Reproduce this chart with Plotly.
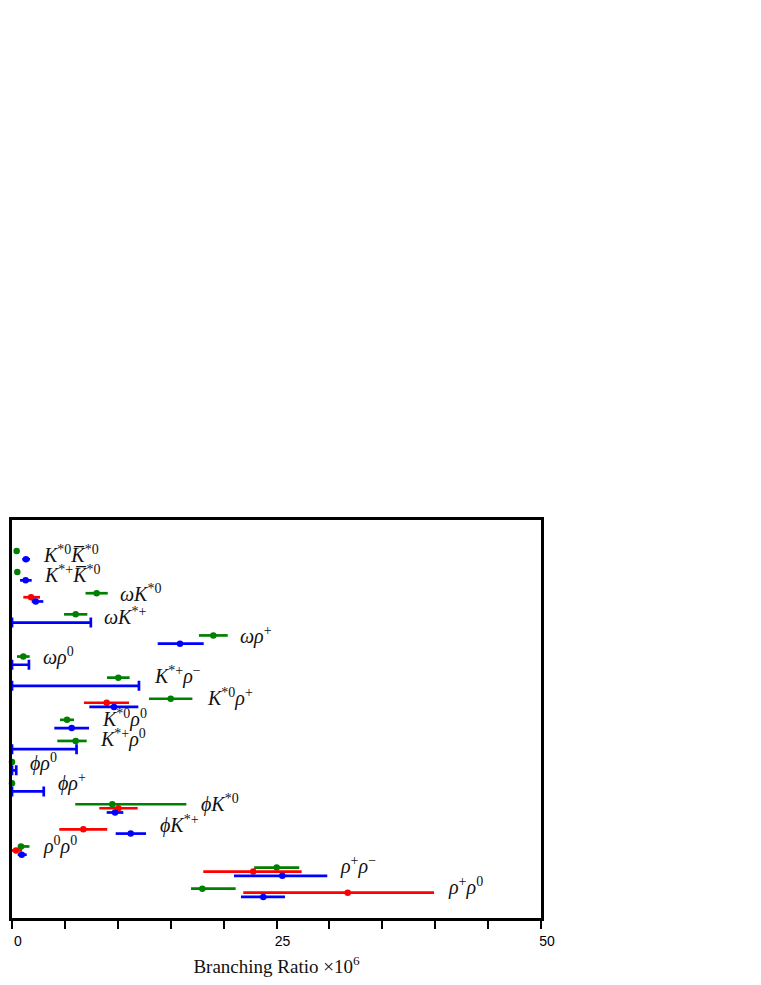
import plotly.graph_objects as go

# Row index (top = 0) for each decay channel
labels = [
    "<i>K</i><sup>*0</sup><i>K\u0305</i><sup>*0</sup>",
    "<i>K</i><sup>*+</sup><i>K\u0305</i><sup>*0</sup>",
    "<i>\u03c9K</i><sup>*0</sup>",
    "<i>\u03c9K</i><sup>*+</sup>",
    "<i>\u03c9\u03c1</i><sup>+</sup>",
    "<i>\u03c9\u03c1</i><sup>0</sup>",
    "<i>K</i><sup>*+</sup><i>\u03c1</i><sup>\u2212</sup>",
    "<i>K</i><sup>*0</sup><i>\u03c1</i><sup>+</sup>",
    "<i>K</i><sup>*0</sup><i>\u03c1</i><sup>0</sup>",
    "<i>K</i><sup>*+</sup><i>\u03c1</i><sup>0</sup>",
    "<i>\u03d5\u03c1</i><sup>0</sup>",
    "<i>\u03d5\u03c1</i><sup>+</sup>",
    "<i>\u03d5K</i><sup>*0</sup>",
    "<i>\u03d5K</i><sup>*+</sup>",
    "<i>\u03c1</i><sup>0</sup><i>\u03c1</i><sup>0</sup>",
    "<i>\u03c1</i><sup>+</sup><i>\u03c1</i><sup>\u2212</sup>",
    "<i>\u03c1</i><sup>+</sup><i>\u03c1</i><sup>0</sup>",
]
label_x = [2.74, 2.8, 10.0, 8.5, 21.4, 2.7, 13.2, 18.2, 8.3, 8.1, 1.5, 4.2, 17.7, 13.8, 2.75, 30.8, 41.0]
label_row = [0.12, 1.08, 1.97, 3.07, 4.0, 5.0, 5.9, 6.95, 7.95, 8.9, 10.0, 10.95, 11.95, 12.95, 13.95, 14.9, 15.9]

# Green series
green_row = [0, 1, 2, 3, 4, 5, 6, 7, 8, 9, 10, 11, 12, 14, 15, 16]
green_val = [0.44, 0.5, 8.0, 6.02, 19.03, 1.07, 10.05, 15.0, 5.2, 6.02, 0.0, 0.0, 9.48, 0.85, 25.02, 17.99]
green_em = [0, 0, 1.05, 1.1, 1.36, 0.6, 1.07, 2.05, 0.66, 1.74, 0, 0, 3.5, 0.3, 2.13, 1.07]
green_ep = [0, 0, 1.05, 1.1, 1.36, 0.6, 1.07, 2.05, 0.66, 1.04, 0, 0, 7.0, 0.8, 2.13, 3.15]

# Red series
red_row = [2, 7, 12, 13, 14, 15, 16]
red_val = [1.8, 8.95, 10.05, 6.74, 0.38, 22.8, 31.73]
red_em = [0.73, 2.15, 1.8, 2.27, 0.38, 4.72, 9.87]
red_ep = [0.85, 2.11, 1.83, 2.26, 0.57, 4.58, 8.16]

# Blue series (measurements)
blue_row = [0, 1, 2, 4, 7, 8, 12, 13, 14, 15, 16]
blue_val = [1.32, 1.29, 2.24, 15.88, 9.64, 5.64, 9.74, 11.22, 0.92, 25.55, 23.75]
blue_em = [0.35, 0.53, 0.38, 2.11, 2.33, 1.64, 0.79, 1.42, 0.38, 4.57, 2.11]
blue_ep = [0.38, 0.57, 0.72, 2.24, 2.3, 1.64, 0.78, 1.45, 0.47, 4.25, 2.05]

# Blue upper limits
limit_row = [3, 5, 6, 9, 10, 11]
limit_val = [7.45, 1.6, 12.0, 6.1, 0.4, 3.0]

GREEN, RED, BLUE = "#008000", "#ff0000", "#0000ff"
OFF_G, OFF_R, OFF_B = 0.0, 0.19, 0.39

fig = go.Figure()

def series(rows, vals, em, ep, color, off):
    fig.add_trace(go.Scatter(
        x=vals, y=[r + off for r in rows], mode="markers",
        marker=dict(color=color, size=6.5),
        error_x=dict(type="data", symmetric=False, array=ep, arrayminus=em,
                     color=color, thickness=2.7, width=0),
        cliponaxis=False, showlegend=False, hoverinfo="x",
    ))

series(green_row, green_val, green_em, green_ep, GREEN, OFF_G)
series(red_row, red_val, red_em, red_ep, RED, OFF_R)
series(blue_row, blue_val, blue_em, blue_ep, BLUE, OFF_B)

fig.add_trace(go.Scatter(
    x=[0] * len(limit_val), y=[r + OFF_B for r in limit_row], mode="markers",
    marker=dict(color=BLUE, size=1, opacity=0),
    error_x=dict(type="data", symmetric=False, array=limit_val,
                 arrayminus=[0] * len(limit_val),
                 color=BLUE, thickness=2.7, width=5),
    cliponaxis=False, showlegend=False, hoverinfo="x",
))

for txt, lx, ly in zip(labels, label_x, label_row):
    fig.add_annotation(x=lx, y=ly, text=txt, showarrow=False,
                       xanchor="left", yanchor="middle",
                       font=dict(family="Liberation Serif", size=20, color="#111"))

# page body has an 8px default margin -> compensate
fig.update_layout(
    width=745, height=969,
    margin=dict(l=4, r=212, t=512, b=59),
    plot_bgcolor="white", paper_bgcolor="white",
    xaxis=dict(
        range=[0, 50], showgrid=False, zeroline=False,
        showline=True, mirror=True, linecolor="black", linewidth=2.8,
        ticks="outside", ticklen=8, tickwidth=2.2, tickcolor="black",
        tickvals=list(range(0, 51, 5)),
        ticktext=["0", "", "", "", "", "25", "", "", "", "", "50"],
        ticklabelshift=6,
        tickfont=dict(family="Liberation Sans", size=14, color="black"),
        title=dict(text="Branching Ratio \u00d710<sup>6</sup>",
                   font=dict(family="Liberation Serif", size=19, color="#111"),
                   standoff=19),
        automargin=False,
    ),
    yaxis=dict(
        range=[17.39, -1.47], showgrid=False, zeroline=False,
        showline=True, mirror=True, linecolor="black", linewidth=2.8,
        showticklabels=False, ticks="", automargin=False,
    ),
)

fig.write_html("out.html")
